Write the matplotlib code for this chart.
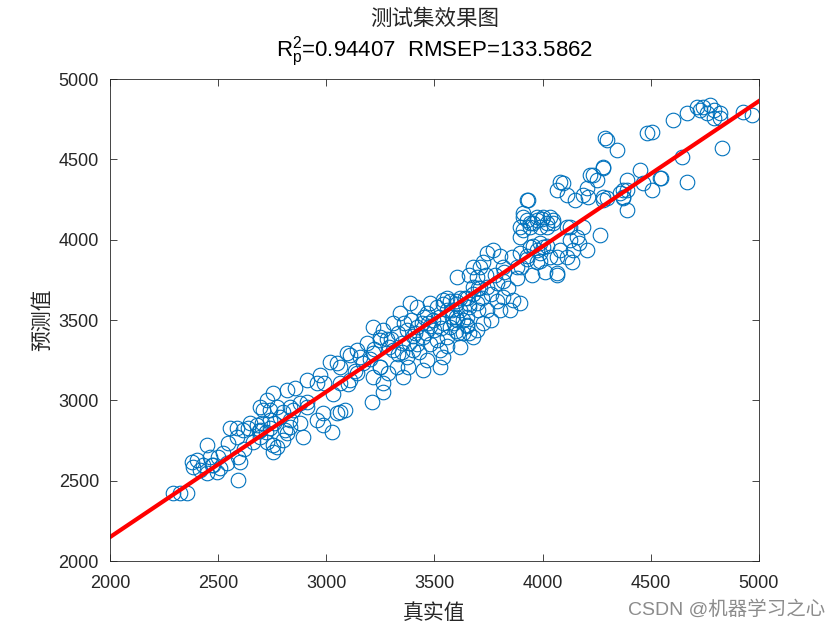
import numpy as np
import matplotlib
matplotlib.use("Agg")
import matplotlib.pyplot as plt

plt.rcParams['font.family'] = ['Liberation Sans', 'Noto Sans CJK SC', 'DejaVu Sans']
plt.rcParams['mathtext.fontset'] = 'custom'
plt.rcParams['mathtext.rm'] = 'Liberation Sans'
plt.rcParams['mathtext.it'] = 'Liberation Sans'

pts = [
    # 2280-2900
    (2291, 2423), (2324, 2423), (2356, 2423), (2379, 2616), (2402, 2629), (2384, 2585),
    (2448, 2722), (2416, 2566), (2448, 2548), (2462, 2647), (2476, 2597), (2499, 2647),
    (2495, 2554), (2541, 2610), (2522, 2672), (2545, 2734), (2555, 2828), (2587, 2828),
    (2615, 2815), (2592, 2504), (2601, 2616), (2592, 2647), (2587, 2772), (2638, 2828),
    (2679, 2847), (2693, 2958), (2707, 2940), (2726, 2741), (2693, 2772), (2703, 2859),
    (2740, 2878), (2753, 2678), (2772, 2710), (2772, 2958), (2800, 2927), (2809, 2815),
    (2818, 2797), (2832, 2878), (2846, 2940), (2892, 2772), (2911, 2958), (2878, 2983),
    (2510, 2580), (2470, 2600), (2430, 2600), (2620, 2700), (2660, 2740), (2690, 2810),
    (2720, 2800), (2740, 2830), (2760, 2860),
    # 2700-3300
    (2985, 2846), (3026, 2803), (3063, 2927), (3049, 2921), (3086, 2940), (2985, 2921),
    (3211, 2989), (3262, 3052), (3216, 3145), (3248, 3207), (3248, 3394), (3280, 3380),
    (3156, 3270), (3109, 3282), (3063, 3207), (3017, 3238), (2971, 3158), (2957, 3108),
    (2911, 3127), (2855, 3077), (2818, 3065), (2753, 3046), (2726, 3002), (2740, 2940),
    (2832, 2958), (2786, 2896), (2647, 2859), (2693, 2815), (2753, 2722), (2800, 2753),
    (2832, 2834), (2878, 2859), (2957, 2878), (2911, 2990), (3031, 3040), (2990, 3108),
    (3063, 3108), (3109, 3127), (3141, 3170),
    # 3000-3700
    (3049, 3232), (3095, 3295), (3141, 3313), (3188, 3357), (3216, 3295), (3262, 3438),
    (3262, 3108), (3285, 3170), (3327, 3207), (3355, 3145), (3378, 3207), (3401, 3313),
    (3447, 3189), (3465, 3251), (3539, 3270), (3525, 3313), (3558, 3394), (3572, 3456),
    (3632, 3419), (3650, 3519), (3697, 3606), (3697, 3768), (3604, 3768), (3539, 3624),
    (3479, 3606), (3419, 3581), (3387, 3606), (3341, 3543), (3308, 3481), (3248, 3376),
    (3216, 3457), (3465, 3543), (3493, 3500), (3419, 3456), (3373, 3438), (3447, 3394),
    (3511, 3376), (3308, 3313), (3604, 3500), (3618, 3332), (3678, 3394), (3373, 3270),
    (3525, 3207), (3248, 3207), (3132, 3183), (3100, 3102),
    (3300, 3380), (3330, 3420), (3350, 3360), (3360, 3480), (3400, 3400), (3420, 3350),
    (3440, 3480), (3460, 3420), (3480, 3460), (3500, 3440), (3520, 3520), (3540, 3480),
    (3560, 3560), (3580, 3520), (3600, 3600), (3620, 3560), (3640, 3640), (3660, 3600),
    (3680, 3660), (3700, 3700), (3200, 3260), (3220, 3320), (3170, 3230), (3290, 3330),
    (3390, 3500), (3450, 3520), (3510, 3580), (3570, 3620), (3330, 3290), (3430, 3300),
    (3480, 3350), (3560, 3340), (3600, 3430), (3650, 3470),
    (3380, 3360), (3410, 3420), (3470, 3480), (3530, 3450), (3590, 3480), (3620, 3640),
    (3720, 3640), (3760, 3660), (3780, 3780), (3740, 3780), (3820, 3800), (3350, 3300),
    # 3500-4100
    (3928, 4247), (3910, 4141), (3941, 4104), (3974, 4141), (4000, 4141), (4020, 4104),
    (4048, 4104), (3910, 4060), (4112, 4079), (4066, 3793), (4080, 3935), (4020, 3960),
    (3974, 3935), (3955, 3960), (3928, 3900), (3895, 3917), (3880, 3830), (3900, 3830),
    (3860, 3890), (3817, 3830), (3803, 3900), (3771, 3935), (3743, 3917), (3725, 3860),
    (3710, 3830), (3678, 3830), (3660, 3780), (3678, 3705), (3743, 3705), (3790, 3730),
    (3817, 3743), (3817, 3643), (3790, 3620), (3863, 3624), (3895, 3606), (3850, 3560),
    (3743, 3562), (3700, 3562), (3725, 3481), (3710, 3700), (3650, 3640), (3600, 3620),
    (3660, 3580), (3540, 3600), (3560, 3640), (3580, 3560), (3630, 3500), (3650, 3460),
    (3600, 3520), (3697, 3440), (3660, 3420), (3610, 3420), (3760, 3500), (3803, 3562),
    (3840, 3700), (3880, 3760), (3950, 3780), (3990, 3870), (4010, 3800),
    # 3900-4450
    (4297, 4620), (4344, 4558), (4482, 4664), (4279, 4452), (4219, 4402), (4251, 4371),
    (4450, 4433), (4390, 4371), (4390, 4309), (4066, 4309), (4094, 4352), (4080, 4359),
    (4112, 4278), (4149, 4247), (4205, 4322), (4186, 4278), (4210, 4266), (4279, 4247),
    (4297, 4259), (4357, 4290), (4371, 4259), (4390, 4185), (3932, 4247), (3910, 4166),
    (3895, 4079), (3928, 4122), (3955, 4104), (3974, 4122), (3995, 4130), (4034, 4141),
    (4048, 4122), (3941, 4079), (3988, 4079), (4020, 4079), (3895, 4017), (4126, 4079),
    (4186, 4079), (4265, 4029), (4159, 4017), (4168, 3980), (4126, 4000), (4205, 3935),
    (4140, 3935), (4112, 3892), (4135, 3861), (4066, 3892), (4034, 3892), (4000, 3955),
    (3988, 3980), (3941, 3955), (3928, 3880), (3974, 3860), (3988, 3920), (4066, 3780),
    # 4400-5000
    (4602, 4745), (4667, 4788), (4713, 4826), (4740, 4826), (4774, 4838), (4790, 4808),
    (4760, 4788), (4820, 4788), (4820, 4760), (4790, 4760), (4926, 4795), (4967, 4776),
    (4727, 4808), (4505, 4670), (4288, 4633), (4829, 4570), (4644, 4515), (4667, 4359),
    (4547, 4384), (4505, 4309), (4464, 4353), (4371, 4309), (4371, 4266), (4279, 4446),
    (4233, 4402), (4279, 4266), (4542, 4384),
]
actual = np.array([p[0] for p in pts], dtype=float)
predicted = np.array([p[1] for p in pts], dtype=float)

# fitted line, ends
fit_x = [2000, 5000]
fit_y = [2149, 4863]

title_cn = "测试集效果图"
title_stats = r"$\mathregular{R_p^2}$=0.94407  RMSEP=133.5862"
xlabel = "真实值"
ylabel = "预测值"
ticks = np.arange(2000, 5001, 500)

fig = plt.figure(figsize=(8.4, 6.3), dpi=100)
ax = fig.add_axes([0.131, 0.1095, 0.7725, 0.765])

ax.plot(actual, predicted, 'o', mfc='none', mec='#0072BD', ms=10.5, mew=0.8)
ax.plot(fit_x, fit_y, color='red', lw=3)

ax.set_xlim(2000, 5000)
ax.set_ylim(2000, 5000)
ax.set_xticks(ticks)
ax.set_yticks(ticks)
ax.tick_params(direction='in', top=True, right=True, labelsize=13, colors='#262626',
               length=5, width=0.6)
ax.tick_params(axis='x', pad=10)
ax.tick_params(axis='y', pad=8)
for s in ax.spines.values():
    s.set_color('#262626')
    s.set_linewidth(0.6)

ax.set_xlabel(xlabel, fontsize=15, family=['Noto Sans CJK SC'], color='#262626', labelpad=7)
ax.set_ylabel(ylabel, fontsize=15, family=['Noto Sans CJK SC'], color='#262626', labelpad=4)

cx = 0.517
fig.text(cx, 0.97, title_cn, ha='center', va='center', fontsize=15.5,
         family=['Noto Sans CJK SC'], color='#262626')
fig.text(cx, 0.917, title_stats, ha='center', va='center', fontsize=16, color='black')

fig.text(0.982, 0.033, "CSDN @机器学习之心", ha='right', va='center', fontsize=14,
         family=['Liberation Sans', 'Noto Sans CJK SC'], color='#8c8c8c')

fig.savefig("out.png", dpi=100)
